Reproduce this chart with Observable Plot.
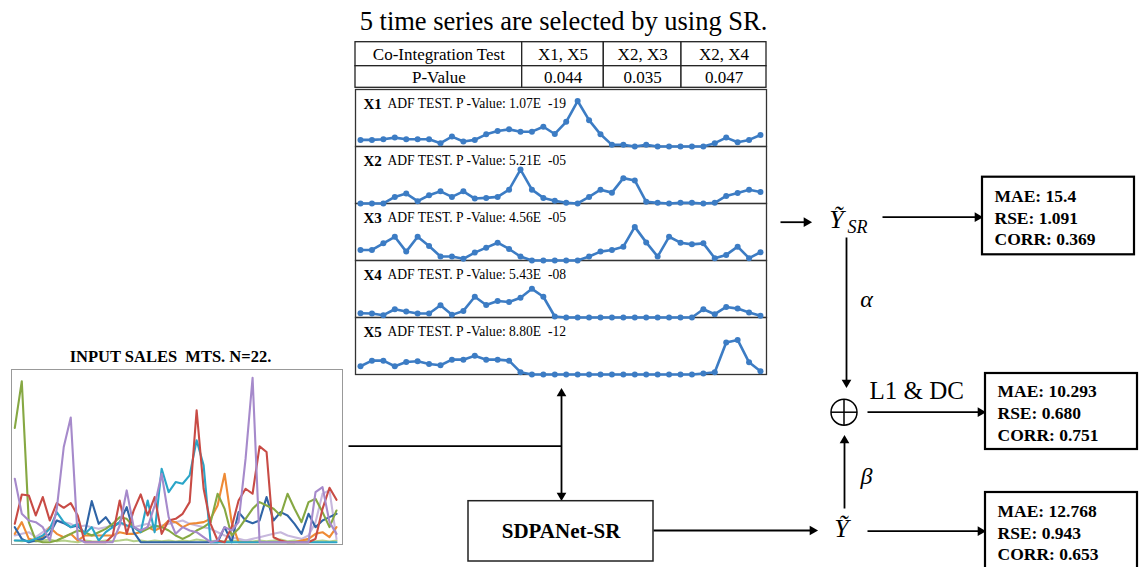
<!DOCTYPE html>
<html>
<head>
<meta charset="utf-8">
<script src="https://cdn.jsdelivr.net/npm/d3@7"></script>
<script src="https://cdn.jsdelivr.net/npm/@observablehq/plot@0.6"></script>
<style>
  body { margin: 0; background: #fff; }
  #root { position: relative; width: 1140px; height: 567px; overflow: hidden; background: #fff; }
  .layer { position: absolute; }
  .layer svg { max-width: none !important; }
</style>
</head>
<body>
<div id="root"></div>
<script>
// ---------------- DATA ----------------
const title = "5 time series are selected by using SR.";
const tableHeader = "Co-Integration Test";
const tableRowLabel = "P-Value";
const pairs = ["X1, X5", "X2, X3", "X2, X4"];
const pValues = ["0.044", "0.035", "0.047"];

const seriesNames = ["X1", "X2", "X3", "X4", "X5"];
const adfP = ["1.07E  -19", "5.21E  -05", "4.56E  -05", "5.43E  -08", "8.80E  -12"];
const x1 = [20,20,22,27,22,22,22,10,30,15,20,37,47,52,45,45,60,38,75,138,80,37,5,5,0,5,0,0,0,0,0,10,27,13,20,35];
const x2 = [0,0,0,20,30,7,25,37,20,37,15,17,20,42,103,42,17,8,2,0,20,42,33,77,70,5,2,0,2,2,0,2,23,32,42,35];
const x3 = [32,32,52,72,27,72,44,12,12,5,24,39,54,35,12,0,0,0,0,0,12,27,32,42,102,55,12,72,54,49,52,7,17,42,7,25];
const x4 = [13,12,7,25,18,12,12,37,8,20,63,38,50,47,60,87,63,3,0,0,0,0,0,0,0,0,0,0,0,0,25,10,32,27,15,5];
const x5 = [25,42,42,25,38,40,32,28,45,45,57,45,45,42,7,0,0,0,0,0,0,0,0,0,0,0,0,0,0,0,3,7,97,105,37,10];

const inputTitle = "INPUT SALES  MTS. N=22.";
const inLightGreen = [5,3,5,2,5,8,3,5,2,0,5,3,2,5,3,5,8,3,5,2,5,3,5,2,5,3,8,5,3,5,2,5,3,5,2,5,3,5,8,3,5,2,5,3,5,2,5];
const inLavender = [20,25,30,15,30,45,65,60,55,45,50,45,40,45,50,55,50,45,50,55,45,50,55,60,65,55,50,45,40,30,20,15,10,5,10,15,20,25,30,20,15,10,20,60,145,155,10];
const inOrange = [25,60,10,5,15,45,25,15,25,5,20,20,20,20,20,30,25,25,30,45,35,45,65,60,45,55,57,60,70,110,205,60,0,0,0,0,0,0,0,0,0,5,10,25,30,15,45];
const inBlue = [45,10,0,5,10,25,65,57,45,50,25,123,55,75,45,60,105,30,0,0,0,0,0,0,0,0,0,0,0,0,45,0,90,65,57,65,135,65,90,80,55,25,85,45,65,75,85];
const inGreen = [342,482,60,5,0,0,5,15,25,35,30,20,30,40,55,75,70,45,30,40,50,45,35,20,10,20,35,45,60,145,100,20,40,70,100,120,110,100,80,145,100,60,120,130,90,45,95];
const inCyan = [5,5,3,10,20,40,90,60,45,55,25,45,5,30,45,60,50,45,30,125,30,220,150,180,175,200,305,230,0,0,0,0,0,0,0,0,0,0,0,0,0,0,0,0,0,0,0];
const inRed = [55,143,140,80,135,65,117,103,117,80,0,0,0,0,20,125,25,95,143,80,135,25,65,70,85,120,395,160,55,5,0,45,125,160,145,287,270,15,5,0,0,0,0,10,100,163,127];
const inPurple = [190,85,65,60,45,5,100,285,373,10,0,0,0,0,0,50,155,45,35,45,110,205,75,25,45,35,30,15,0,5,45,35,60,250,492,0,0,0,0,0,0,0,0,150,165,60,25];

const modelName = "SDPANet-SR";
const fusionLabel = "L1 & DC";
const maeValues = ["15.4", "10.293", "12.768"];
const rseValues = ["1.091", "0.680", "0.943"];
const corrValues = ["0.369", "0.751", "0.653"];

// ---------------- LAYOUT ----------------
const root = document.getElementById("root");
function place(svg, left, top) {
  const d = document.createElement("div");
  d.className = "layer";
  d.style.left = left + "px";
  d.style.top = top + "px";
  d.appendChild(svg);
  root.appendChild(d);
}
const SERIF = "Liberation Serif";
const baseStyle = {fontFamily: SERIF, background: "transparent", overflow: "visible", color: "#000"};

// table grid
const colEdges = [355, 521.7, 603.3, 681, 766];
const rowEdges = [41.7, 65.7, 87.3];
const tableCells = [];
const tableTexts = [];
const row1 = [tableHeader, ...pairs];
const row2 = [tableRowLabel, ...pValues];
[row1, row2].forEach((row, r) => {
  row.forEach((t, c) => {
    tableCells.push({x1: colEdges[c], x2: colEdges[c + 1], y1: rowEdges[r], y2: rowEdges[r + 1]});
    tableTexts.push({x: (colEdges[c] + colEdges[c + 1]) / 2, y: (rowEdges[r] + rowEdges[r + 1]) / 2 + 0.5, t});
  });
});

// connectors
const segs = [
  {x1: 780, y1: 221.7, x2: 806, y2: 221.7},
  {x1: 882, y1: 216.7, x2: 977, y2: 216.7},
  {x1: 846, y1: 237, x2: 846, y2: 382},
  {x1: 867, y1: 411.7, x2: 980, y2: 411.7},
  {x1: 844, y1: 508, x2: 844, y2: 440},
  {x1: 653, y1: 530, x2: 812, y2: 530},
  {x1: 867, y1: 530.7, x2: 980, y2: 530.7},
  {x1: 348, y1: 445.7, x2: 561, y2: 445.7},
  {x1: 561, y1: 393, x2: 561, y2: 496}
];
const heads = [
  {x: 806, y: 221.7, a: 90},
  {x: 977, y: 216.7, a: 90},
  {x: 846, y: 382, a: 180},
  {x: 980, y: 411.7, a: 90},
  {x: 844, y: 440, a: 0},
  {x: 812, y: 530, a: 90},
  {x: 980, y: 530.7, a: 90},
  {x: 561, y: 393, a: 0},
  {x: 561, y: 495, a: 180}
];
const boxes = [
  {x1: 982, x2: 1134, y1: 176.7, y2: 254.3},
  {x1: 985, x2: 1137, y1: 373, y2: 449},
  {x1: 985, x2: 1137, y1: 492, y2: 580}
];
const boxTexts = boxes.map((b, k) => ({
  x: b.x1 + 12,
  y: [216, 411.7, 531][k],
  t: `MAE: ${maeValues[k]}\nRSE: ${rseValues[k]}\nCORR: ${corrValues[k]}`
}));
const oplus = {x: 843.5, y: 411.7};
const OR = 13;

const main = Plot.plot({
  width: 1140, height: 567, margin: 0,
  x: {domain: [0, 1140], range: [0, 1140], axis: null},
  y: {domain: [0, 567], range: [0, 567], axis: null},
  style: {...baseStyle, background: "#fff"},
  marks: [
    Plot.text([title], {x: () => 563, y: () => 21, text: d => d, fontSize: 26.5, fontFamily: SERIF}),
    Plot.rect(tableCells, {x1: "x1", x2: "x2", y1: "y1", y2: "y2", fill: "#fff", stroke: "#222", strokeWidth: 1.3}),
    Plot.text(tableTexts, {x: "x", y: "y", text: "t", fontSize: 17, fontFamily: SERIF}),
    // input title
    Plot.text([inputTitle], {x: () => 170, y: () => 356.5, text: d => d, fontSize: 16.5, fontWeight: "bold", fontFamily: SERIF}),
    // connectors
    Plot.link(segs, {x1: "x1", y1: "y1", x2: "x2", y2: "y2", stroke: "#000", strokeWidth: 1.8}),
    Plot.dot(heads, {x: d => d.x, y: d => d.y, symbol: "triangle", r: 3.6, rotate: "a", fill: "#000", stroke: "none"}),
    // model box
    Plot.rect([modelName], {x1: () => 468, x2: () => 653, y1: () => 500.7, y2: () => 561, fill: "#fff", stroke: "#222", strokeWidth: 1.5}),
    Plot.text([modelName], {x: () => 560.5, y: () => 531, text: d => d, fontSize: 21, fontWeight: "bold", fontFamily: SERIF}),
    // metric boxes
    Plot.rect(boxes, {x1: "x1", x2: "x2", y1: "y1", y2: "y2", fill: "#fff", stroke: "#000", strokeWidth: 2.2}),
    Plot.text(boxTexts, {x: "x", y: "y", text: "t", textAnchor: "start", lineHeight: 1.25, fontSize: 17.5, fontWeight: "bold", fontFamily: SERIF}),
    // math symbols
    Plot.text(["Ỹ"], {x: () => 836, y: () => 219, text: d => d, fontSize: 26, fontStyle: "italic", fontFamily: SERIF}),
    Plot.text(["SR"], {x: () => 847, y: () => 227, text: d => d, textAnchor: "start", fontSize: 18, fontStyle: "italic", fontFamily: SERIF}),
    Plot.text(["α"], {x: () => 866, y: () => 299, text: d => d, fontSize: 24, fontStyle: "italic", fontFamily: SERIF}),
    Plot.text(["β"], {x: () => 866, y: () => 476, text: d => d, fontSize: 24, fontStyle: "italic", fontFamily: SERIF}),
    Plot.text([fusionLabel], {x: () => 869, y: () => 390, text: d => d, textAnchor: "start", fontSize: 25, fontFamily: SERIF}),
    Plot.text(["Ỹ"], {x: () => 841, y: () => 528, text: d => d, fontSize: 26, fontStyle: "italic", fontFamily: SERIF}),
    Plot.dot([oplus], {x: "x", y: "y", r: OR, fill: "none", stroke: "#000", strokeWidth: 1.5}),
    Plot.link([oplus, oplus], {
      x1: (d, i) => i ? d.x - OR : d.x, x2: (d, i) => i ? d.x + OR : d.x,
      y1: (d, i) => i ? d.y : d.y - OR, y2: (d, i) => i ? d.y : d.y + OR,
      stroke: "#000", strokeWidth: 1.5
    })
  ]
});
place(main, 0, 0);

// ---------------- SPARKLINE PANELS ----------------
const seriesValues = [x1, x2, x3, x4, x5];
const panelRows = seriesNames.flatMap((s, k) => seriesValues[k].map((v, i) => ({series: s, i, v})));
const labelRows = seriesNames.map((s, k) => ({series: s, adf: "ADF TEST. P -Value: " + adfP[k]}));
const BLUE = "#3C7CC4";
const panelH = 375.7 - 87.3;
const panels = Plot.plot({
  width: 411, height: panelH, margin: 0,
  x: {domain: [0, 35], insetLeft: 5, insetRight: 6, axis: null},
  y: {domain: [0, panelH / 5 * 3], axis: null},
  fy: {domain: seriesNames, padding: 0, axis: null},
  style: baseStyle,
  marks: [
    Plot.frame({stroke: "#333", strokeWidth: 1.3}),
    Plot.line(panelRows, {x: "i", y: "v", fy: "series", stroke: BLUE, strokeWidth: 2.6}),
    Plot.dot(panelRows, {x: "i", y: "v", fy: "series", fill: BLUE, r: 3}),
    Plot.text(labelRows, {fy: "series", text: "series", frameAnchor: "top-left", lineAnchor: "middle", dx: 8, dy: 14.5, fontSize: 15, fontWeight: "bold", fontFamily: SERIF}),
    Plot.text(labelRows, {fy: "series", text: "adf", frameAnchor: "top-left", lineAnchor: "middle", dx: 32, dy: 14.5, fontSize: 13.6, fontFamily: SERIF})
  ]
});
place(panels, 355, 87.3);

// ---------------- INPUT SALES CHART ----------------
const inputSeries = [inLightGreen, inLavender, inOrange, inBlue, inGreen, inCyan, inRed, inPurple];
const inputColors = ["#B5D08A", "#C7B8DD", "#EE8A35", "#2F64A6", "#86A843", "#2AA5C8", "#C84B45", "#A68ACB"];
const inputPlot = Plot.plot({
  width: 331, height: 175, margin: 0,
  x: {domain: [0, 46], insetLeft: 3.3, insetRight: 6, axis: null},
  y: {domain: [0, 517], insetBottom: 2.3, axis: null},
  style: baseStyle,
  marks: [
    Plot.frame({stroke: "#999", strokeWidth: 1}),
    ...inputSeries.map((vals, k) => Plot.lineY(vals, {stroke: inputColors[k], strokeWidth: 2.1}))
  ]
});
place(inputPlot, 11, 369.3);
</script>
</body>
</html>
